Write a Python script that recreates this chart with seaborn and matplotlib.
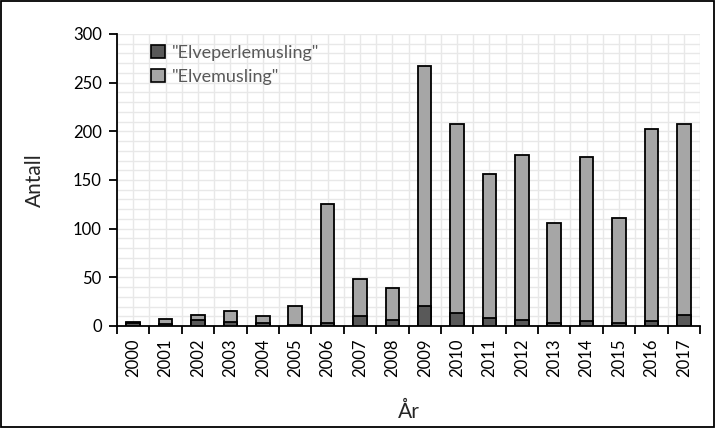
import pandas as pd
import numpy as np
import matplotlib
matplotlib.use('Agg')
import matplotlib.pyplot as plt
import seaborn as sns
from matplotlib.patches import Patch, Rectangle
from matplotlib.ticker import MultipleLocator, FixedLocator

years = ['2000', '2001', '2002', '2003', '2004', '2005', '2006', '2007', '2008',
         '2009', '2010', '2011', '2012', '2013', '2014', '2015', '2016', '2017']
elveperlemusling = [3, 2, 6, 4, 3, 1, 3, 10, 6, 21, 13, 8, 6, 3, 5, 3, 5, 11]
elvemusling = [1, 5, 5, 11, 7, 20, 122, 38, 33, 246, 195, 148, 170, 103, 169, 108, 197, 197]
y_ticks = [0, 50, 100, 150, 200, 250, 300]

sns.set_theme(style='ticks')
plt.rcParams['font.family'] = ['Lato', 'DejaVu Sans']

df = pd.DataFrame({'År': years, 'Elveperlemusling': elveperlemusling, 'Elvemusling': elvemusling})
df['Total'] = df['Elveperlemusling'] + df['Elvemusling']

dark = '#595959'
light = '#a6a6a6'

fig = plt.figure(figsize=(7.15, 4.28), dpi=100)
ax = fig.add_axes([117 / 715, 102 / 428, 583 / 715, 292 / 428])

# stacked: total bar in light, the lower part painted over in dark
sns.barplot(data=df, x='År', y='Total', color=light, edgecolor='black', linewidth=1.3,
            width=0.42, saturation=1, ax=ax, zorder=3)
sns.barplot(data=df, x='År', y='Elveperlemusling', color=dark, edgecolor='black', linewidth=1.3,
            width=0.42, saturation=1, ax=ax, zorder=4)

ax.set_xlim(-0.5, len(years) - 0.5)
ax.set_ylim(0, 300)
ax.set_yticks(y_ticks)
ax.yaxis.set_minor_locator(MultipleLocator(10))
ax.xaxis.set_minor_locator(FixedLocator(np.arange(-0.5, len(years), 1.0)))

ax.grid(True, which='both', color='#e8e8e8', linewidth=1.0, zorder=0)
ax.xaxis.grid(True, which='major', color='#e8e8e8', linewidth=1.0)
ax.set_axisbelow(True)

for s in ['top', 'right']:
    ax.spines[s].set_visible(False)
for s in ['left', 'bottom']:
    ax.spines[s].set_color('black')
    ax.spines[s].set_linewidth(1.3)

ax.tick_params(axis='x', which='major', length=0, labelsize=12, rotation=90, pad=9, colors='black')
ax.tick_params(axis='x', which='minor', length=6, width=1.3, color='black')
ax.tick_params(axis='y', which='major', length=6, width=1.3, labelsize=12, pad=5, colors='black')
ax.tick_params(axis='y', which='minor', length=0)

ax.set_xlabel('År', fontsize=15, labelpad=18)
ax.set_ylabel('Antall', fontsize=15, labelpad=20)

handles = [Patch(facecolor=dark, edgecolor='black', linewidth=1.2, label='"Elveperlemusling"'),
           Patch(facecolor=light, edgecolor='black', linewidth=1.2, label='"Elvemusling"')]
leg = ax.legend(handles=handles, loc='upper left', bbox_to_anchor=(0.04, 1.0), frameon=False,
                fontsize=13, handlelength=0.75, handleheight=0.75, handletextpad=0.4,
                labelspacing=0.45, borderaxespad=0.2)
for t in leg.get_texts():
    t.set_color('#595959')

fig.patches.append(Rectangle((0.002, 0.003), 0.996, 0.994, transform=fig.transFigure,
                             fill=False, edgecolor='black', linewidth=1.3))

fig.savefig('out.png', dpi=100)
